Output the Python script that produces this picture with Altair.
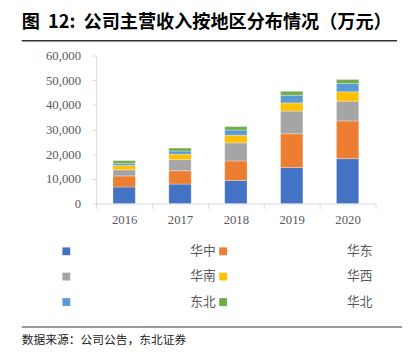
import altair as alt
import pandas as pd

years = ["2016", "2017", "2018", "2019", "2020"]
regions = ["华中", "华东", "华南", "华西", "东北", "华北"]
huazhong = [6700, 7900, 9350, 14600, 18200]
huadong = [4500, 5400, 7900, 13700, 15300]
huanan = [2500, 4500, 7350, 9200, 8000]
huaxi = [1700, 2200, 3100, 3300, 3800]
dongbei = [800, 1300, 2100, 3100, 3400]
huabei = [1200, 1200, 1400, 1600, 1600]
y_ticks = [0, 10000, 20000, 30000, 40000, 50000, 60000]
colors = ["#4472C4", "#ED7D31", "#A5A5A5", "#FFC000", "#5B9BD5", "#70AD47"]

title_text = "图\u00a0\u00a012:\u00a0\u00a0公司主营收入按地区分布情况（万元）"
source_text = "数据来源：公司公告，东北证券"

series = [huazhong, huadong, huanan, huaxi, dongbei, huabei]
rows = []
for i, (r, vals) in enumerate(zip(regions, series)):
    for y, v in zip(years, vals):
        rows.append({"year": y, "region": r, "value": v, "idx": i})
df = pd.DataFrame(rows)

axis_gray = "#D9D9D9"
label_gray = "#595959"

bars = alt.Chart(df).mark_bar(width=alt.RelativeBandSize(0.4), stroke="white", strokeWidth=0.5, strokeOpacity=0.6).encode(
    x=alt.X("year:N", sort=years,
            scale=alt.Scale(paddingInner=0, paddingOuter=0),
            axis=alt.Axis(title=None, labelAngle=0, tickBand="extent", tickSize=5,
                          tickColor=axis_gray, domainColor=axis_gray, labelPadding=5,
                          labelFont="Liberation Serif", labelFontSize=13, labelColor=label_gray)),
    y=alt.Y("value:Q", stack="zero",
            scale=alt.Scale(domain=[0, 60000], nice=False),
            axis=alt.Axis(title=None, values=y_ticks, format=",.0f", grid=False, tickSize=4,
                          tickColor=axis_gray, domainColor=axis_gray, labelPadding=12,
                          labelFont="Liberation Serif", labelFontSize=13, labelColor=label_gray)),
    color=alt.Color("region:N", sort=regions,
                    scale=alt.Scale(domain=regions, range=colors),
                    legend=alt.Legend(title=None, orient="none", legendX=-37, legendY=193,
                                      columns=2, direction="horizontal",
                                      symbolType="square", symbolSize=64, symbolStrokeWidth=0,
                                      labelOffset=120, columnPadding=-11, rowPadding=12,
                                      labelFont="Noto Sans CJK SC", labelFontSize=13,
                                      labelColor=label_gray, padding=0)),
    order=alt.Order("idx:Q", sort="ascending"),
)

title_layer = alt.Chart(pd.DataFrame({"t": [title_text]})).mark_text(
    align="left", baseline="middle", font="Noto Sans CJK SC", fontSize=18.5, fontWeight="bold", color="#000000"
).encode(text="t:N", x=alt.value(-76), y=alt.value(-34))

top_rule = alt.Chart(pd.DataFrame({"a": [0]})).mark_rule(color="#333333", strokeWidth=1.5).encode(
    x=alt.value(-76), x2=alt.value(307), y=alt.value(-15))

bottom_rule = alt.Chart(pd.DataFrame({"a": [0]})).mark_rule(color="#777777", strokeWidth=1.5).encode(
    x=alt.value(-76), x2=alt.value(312), y=alt.value(277))

source_layer = alt.Chart(pd.DataFrame({"t": [source_text]})).mark_text(
    align="left", baseline="middle", font="Noto Sans CJK SC", fontSize=12, color="#222222"
).encode(text="t:N", x=alt.value(-76), y=alt.value(290))

chart = alt.layer(bars, title_layer, top_rule, bottom_rule, source_layer).properties(
    width=285, height=151,
    autosize=alt.AutoSizeParams(type="none"),
    padding={"left": 90, "top": 45, "right": 27, "bottom": 150},
).configure_view(stroke=None)

chart.save("out.html", embed_options={"renderer": "svg", "actions": False})
